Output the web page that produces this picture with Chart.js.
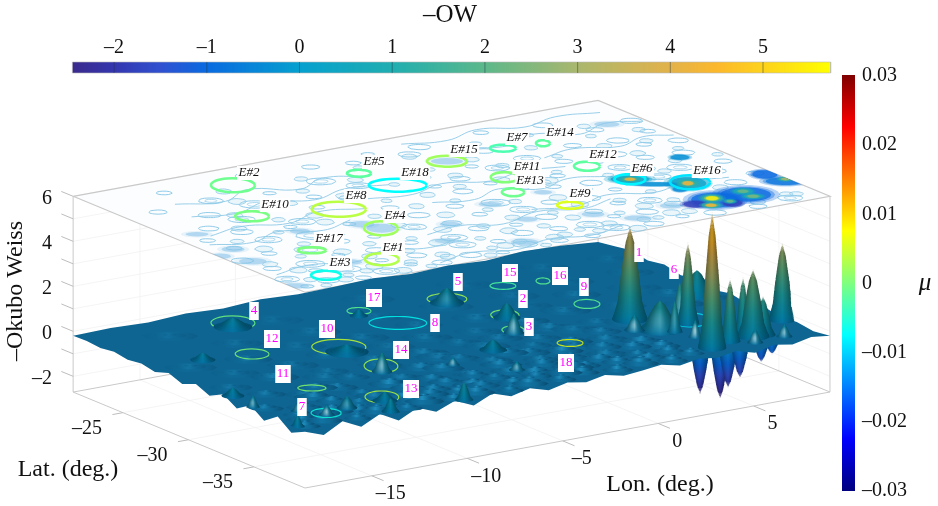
<!DOCTYPE html>
<html><head><meta charset="utf-8">
<style>html,body{margin:0;background:#fff}canvas{display:block;filter:blur(.4px)}</style>
<script src="https://cdn.jsdelivr.net/npm/chart.js@4"></script>
</head><body><canvas id="c" width="938" height="506"></canvas>
<script>
// ---------- axes ----------
const lonTicks=[-15,-10,-5,0,5];
const latTicks=[-35,-30,-25];
const zTicks=[-2,0,2,4,6];
const zMinorTicks=[-1,1,3,5];
const owTicks=[-2,-1,0,1,2,3,4,5];
const muTicks=[0.03,0.02,0.01,0,-0.01,-0.02,-0.03];
// ---------- eddies (E#1..E#18): top-plane ring and surface ring ----------
const eddyName=['E#1','E#2','E#3','E#4','E#5','E#6','E#7','E#8','E#9','E#10','E#11','E#12','E#13','E#14','E#15','E#16','E#17','E#18'];
const eddySurfaceName=['13','4','7','14','17','1','15','10','18','12','2','9','3','16','5','6','11','8'];
const eddyLon=[-12.81,-11.72,-16.24,-10.12,-6.09,3.23,1.34,-9.98,-1.23,-13.75,-1.14,2.81,-2.16,3.23,-1.84,5.15,-14.56,-5.73];
const eddyLat=[-36.48,-23.52,-37.22,-32.49,-24.94,-32.04,-25.10,-29.07,-33.97,-27.94,-28.86,-29.37,-30.97,-25.40,-25.46,-33.83,-33.69,-27.38];
const eddyMajor=[.73,.95,.65,.73,.52,.67,.56,1.17,.56,.73,.61,.56,.48,.30,.86,.86,.61,1.25];
const eddyMinor=[.93,1.08,.70,1.08,.54,.78,.54,1.16,.54,.78,.78,.70,.62,.47,.85,1.08,.47,1.0];
const eddyMu=[.003,-.001,-.0065,.002,-.002,-.008,-.003,.0035,.0055,-.0003,.0003,-.002,-.001,-.002,.002,-.009,0,-.0075];
// ---------- peaks of -OW on the surface ----------
const peakLon=[3.18,4.94,3.67,4.89,6.24,6.16,8.7,3.72,4.95,7.77,3.36,6.66,-2.01,-1.15,-2.22,-10.43,-11.9,-6.36,-9.95,-12.87,-16.21,-18.19,-9.91,-7.24,-5.36,-14.86,-18.3,-15.89,-17.96,-4.47,2.4,4.0,5.7,7.3,-16.9,-13.6];
const peakLat=[-32.11,-33.97,-37.67,-37.26,-36.28,-37.16,-35.7,-34.75,-33.34,-30.54,-34.15,-37.2,-25.71,-29.03,-31.12,-33.02,-23.78,-25.32,-29.64,-36.8,-37.23,-34.48,-38.53,-33.79,-35.93,-36.81,-38.04,-27.3,-32.61,-32.81,-33.6,-35.9,-38,-37.9,-36.1,-38.3];
const peakZ=[3.9,3.38,5.8,2.58,2.18,2.76,3.2,1.22,1.5,.9,1.1,1.49,.47,.47,.69,.69,.2,.1,.1,.2,.25,.33,.6,.15,.2,.33,.3,.1,.15,.25,.5,.6,.4,.35,.25,.4];
const peakR=[.78,.5,.62,.46,.4,.72,.62,.34,.4,.8,.95,.55,.75,.6,.45,.45,.85,.4,.95,.55,.35,.3,.4,.3,.35,.45,.32,.55,.5,.6,.45,.3,.35,.35,.35,.4];
const peakGlow=[0,0,0,0,0,0,0,.25,.35,0,.3,0,.2,0,.6,.6,0,0,0,0,.7,.5,0,.6,.5,.3,0,0,0,0,.6,.8,.7,.6,.5,0];
const troughLon=[3.49,4.22,4.51,5.38,6.59,7.25];
const troughLat=[-37.01,-37.48,-37.66,-37.3,-37.16,-37.02];
const troughZ=[-2.38,-2.6,-2.11,-1.89,-1.4,-1.2];
// ---------- small ripples of the surface ----------
const rippleLon=[-18,-16.8,-15.4,-14.1,-12.7,-11.5,-10.2,-8.8,-7.4,-6.1,-4.6,-3.2,-1.7,-.3,1.1,2.4,-17.2,-15.7,-13.9,-11.8,-10.1,-8.3,-6.8,-4.9,-3.1,-1.4,.4,2,-17.9,-15.1,-13,-11.2,-9.2,-7.5,-5.5,-3.6,-2,-.2,1.7,-16.6,-14.2,-12,-8.6,-6.4,-4.2,-2.6,-.9,1.1,-17.3,-14.8,-12.3,-9.6,-7.2,-5,-3.2,-.4,1.8,6.5,8,-15.9,-13.1,-10.9,-7.9,-5.8,-3.4,-.7,1.6,4.1,7,-17,-14.2,-11.2,-8.1,-5,-2.2,.6,3.4,6.1,-13.2,-9.4,-5.8,-2.4,1,4.2,7.3,-15,-9.8,-4.6,.2,4.6,7.8,-17.5,-16.1,-14.7,-13.3,-11.9,-10.6,-9.4,-8,-6.6,-5.2,-3.9,-2.5,-1,.5,1.8,-16.4,-14.8,-12.8,-10.9,-9,-7.4,-5.7,-3.9,-2.3,-.7,.9,-15.2,-13.4,-10.2,-7.9,-5.4,-3.4,-1.2,.6,-12.9,-9.9,-7,-4.4,-1.8,.3,2.9];
const rippleLat=[-38.2,-37.9,-38.4,-38,-38.3,-37.8,-38.2,-37.9,-38.4,-38,-38.2,-37.8,-38.3,-38,-38.4,-37.9,-36.6,-36.9,-36.4,-36.8,-36.5,-36.9,-36.4,-36.7,-36.9,-36.5,-36.8,-36.3,-35,-34.7,-35.3,-34.8,-35.1,-35.4,-34.9,-35.2,-34.6,-35,-35.2,-33.2,-33.5,-33,-33.4,-33.1,-33.5,-33.2,-33.6,-33,-31.5,-31.2,-31.7,-31.3,-31.6,-31.1,-31.5,-31.3,-31.7,-31.4,-31.2,-29.8,-30.1,-29.6,-30,-29.7,-30.1,-29.9,-29.5,-30.2,-29.7,-28,-28.3,-27.8,-28.2,-27.9,-28.4,-28,-27.7,-28.2,-26,-26.3,-25.9,-26.2,-26.4,-25.8,-26.1,-23.5,-23.9,-23.4,-23.8,-23.5,-23.9,-37.3,-37,-37.5,-37.2,-37.4,-37,-37.4,-37.1,-37.5,-37.2,-37.4,-37,-37.3,-37.5,-37.1,-35.8,-35.6,-36,-35.7,-35.9,-35.6,-36,-35.8,-35.6,-36,-35.7,-34.2,-34,-34.3,-34,-34.2,-34,-34.3,-34.1,-32.4,-32.1,-32.5,-32.2,-32.4,-32.1,-32.5];
const rippleH=[.22,.3,.2,.28,.18,.3,.22,.26,.2,.28,.2,.26,.22,.3,.24,.22,.2,.26,.16,.22,.2,.26,.16,.22,.26,.2,.18,.24,.16,.2,.15,.22,.18,.14,.2,.16,.22,.18,.2,.14,.16,.12,.18,.14,.16,.12,.18,.14,.1,.14,.1,.12,.14,.1,.12,.14,.1,.14,.12,.08,.1,.12,.08,.1,.08,.12,.1,.08,.1,.08,.1,.07,.09,.08,.1,.07,.09,.08,.07,.08,.06,.08,.07,.06,.08,.06,.05,.06,.05,.06,.05,.24,.2,.26,.18,.24,.2,.26,.18,.22,.2,.26,.18,.24,.2,.22,.18,.2,.16,.22,.18,.2,.16,.2,.18,.16,.2,.14,.16,.14,.18,.14,.16,.14,.16,.12,.1,.12,.1,.12,.1,.12];
const rippleR=[.5,.6,.45,.6,.5,.65,.5,.6,.45,.6,.5,.55,.5,.6,.5,.45,.55,.7,.5,.65,.6,.7,.5,.65,.7,.6,.5,.6,.6,.7,.55,.75,.6,.55,.7,.6,.65,.6,.7,.65,.7,.6,.75,.65,.7,.6,.7,.65,.7,.8,.65,.75,.8,.7,.75,.8,.7,.7,.65,.8,.85,.75,.8,.85,.8,.75,.85,.8,.75,.85,.8,.9,.85,.8,.9,.85,.8,.9,.85,.9,.85,.9,.85,.9,.8,.9,.95,.9,.95,.85,.8,.55,.5,.6,.5,.55,.6,.5,.6,.55,.5,.6,.5,.55,.6,.5,.6,.55,.7,.6,.65,.55,.7,.6,.55,.7,.6,.7,.65,.75,.7,.65,.7,.75,.7,.8,.75,.85,.8,.75,.8,.85];
// surface margin heights, walking round the sheet
const edgeBackLeftZ=[-.2,-.16,-.22,-.12,-.2,-.1,-.18,-.14,-.08,-.2,-.12,-.22,-.1,-.16,-.3];
const edgeBackRightZ=[-.3,-.18,-.05,-.2,-.08,-.25,-.1,-.3,-.15,-.3,-.12,-.28,-.2,-.3,-.2];
const edgeFrontRightZ=[-.2,-.1,-.28,-.14,-.34,-.12,-.26,-.16,-.3,-.12,-.22,-.3,-.12,-.28,-.14,-.34,-.1,-.3,-.02,-.4,-.04,-.38,-.05,-.46,-.02,-.44,-.04,-.5,-.2];
const edgeFrontLeftZ=[-.2,-.5,-.02,-.46,-.02,-.42,-.04,-.36,-.08,-.34,-.1,-.3,-.18,-.26,-.16,-.24,-.18,-.2];
// ---------- -OW contours on the top plane ----------
const contourLon=[-17.9,-16.6,-15.1,-13.7,-12.2,-10.9,-9.2,-7.8,-6.3,-4.7,-3.1,-1.5,.2,1.9,3.4,-18,-16.2,-14.9,-12.9,-11.2,-8.6,-7,-5.4,-3.7,-2.2,-.6,1,2.7,5.5,7.4,-17.6,-15.8,-14,-12.2,-10.3,-8.3,-6.6,-4.9,-3.1,-.9,.7,2.1,6.8,8.3,-18,-16.4,-14.6,-12.7,-11.1,-8.8,-7.1,-5.3,-3.3,-1.7,.1,1.8,4.5,7.1,-17.2,-15.2,-13.3,-10.9,-7.6,-5.5,-3.7,-.2,1.5,4.3,6.1,8.2,-17.5,-15.5,-13.3,-12.4,-8,-3.9,-2.2,-.3,.9,3.9,5.7,7.5,-16.4,-14.4,-10.6,-8.6,-4.5,-2.9,-.6,2.4,4.9,6.8,8.4,-15.2,-12.6,-9.8,-7.2,-4.2,-1.4,1.3,4.1,6.2,8.1,-16.8,-13.9,-11.1,-8.2,-5.4,-2.6,.4,3.3,6.3,8.4,-14.9,-10.4,-7.3,-4.1,-1.6,1.9,4.8,7.6];
const contourLat=[-38.2,-37.9,-38.4,-38.1,-37.8,-38.3,-38,-38.4,-37.9,-38.2,-38.4,-37.9,-38.3,-38,-38.3,-36.8,-36.4,-36.9,-36.6,-36.8,-36.5,-36.9,-36.4,-36.7,-36.9,-36.4,-36.6,-36.2,-38.5,-38.2,-35.1,-35.4,-34.9,-35.2,-35,-35.4,-34.8,-35.2,-34.9,-35.3,-34.8,-35.2,-34.9,-34.2,-33.4,-33.1,-33.6,-33.2,-33.4,-33.1,-33.5,-33,-33.4,-33.1,-33.5,-33,-32.4,-33,-31.6,-31.3,-31.8,-31.2,-31.7,-31.4,-31.9,-31.2,-31.6,-31.3,-31.7,-31.9,-30,-29.7,-30.2,-29.8,-30.1,-29.7,-29.3,-30.3,-29.9,-30.3,-29.6,-29.9,-28.5,-28.1,-28.3,-27.9,-28.4,-28,-27.5,-28.2,-28.5,-27.9,-28.2,-26.8,-26.5,-26.9,-26.5,-26.9,-26.7,-27,-26.4,-26.8,-26.3,-25.2,-25,-25.4,-25.1,-23.5,-23.7,-25,-23.6,-24.9,-24.6,-22.9,-22.7,-23,-22.7,-23,-22.6,-23.1,-22.8];
const contourSize=[.3,.5,.35,.6,.3,.45,.5,.3,.55,.4,.35,.6,.45,.3,.5,.55,.35,.6,.3,.45,.6,.35,.5,.4,.6,.3,.5,.45,.4,.55,.4,.65,.3,.5,.35,.6,.45,.3,.5,.4,.35,.55,.5,.4,.5,.35,.7,.4,.3,.55,.45,.35,.6,.4,.5,.3,.55,.45,.35,.6,.7,.3,.5,.4,.65,.35,.5,.45,.6,.4,.35,.5,.3,.6,.4,.45,.3,.5,.35,.55,.4,.5,.45,.6,.35,.5,.3,.45,.55,.4,.5,.35,.45,.5,.7,.35,.55,.45,.3,.6,.4,.5,.35,.4,.55,.3,.65,.35,.5,.45,.3,.4,.5,.35,.55,.4,.3,.5,.35,.45];
const contour2Lon=[-17.1,-15.9,-14.4,-13,-11.6,-10.2,-8.5,-7.1,-5.6,-4,-2.4,-.8,.9,2.6,-17.2,-15.4,-13.7,-12,-10.2,-7.8,-6.2,-4.6,-3,-1.4,.2,1.8,3.6,-16.8,-15,-13,-11.1,-9.3,-7.4,-5.7,-4,-2.2,-.1,1.4,3,5.9,7.6,-17.3,-15.5,-13.6,-11.9,-9.9,-8,-6.2,-4.4,-2.5,-.8,1,2.9,5.8,8,-16.2,-14.3,-12.2,-9.2,-6.6,-4.6,-2.9,-1,.8,3,5.2,7.2,-16.5,-14.2,-11.6,-9.3,-6.9,-5,-1.4,.2,2.8,4.8,6.5,8.6,-15.3,-13.1,-11.4,-7.5,-5.5,-3.6,-1.5,1.2,3.6,5.8,7.7,-14.3,-11.2,-8.6,-5.8,-2.8,-.2,2.6,5.2,7.2,-13,-9.7,-6.8,-3.2,-.8,2.4,5.6,7.9,-12.6,-8.7,-5.6,-2.8,.7,3.4,6.2];
const contour2Lat=[-38.5,-38.2,-37.6,-38.4,-38.5,-37.7,-38.5,-37.6,-38.5,-37.6,-37.9,-38.5,-37.6,-37.5,-37.4,-37.7,-37.2,-37.5,-37.3,-37.6,-37.4,-37.7,-37.3,-37.2,-37.5,-37.3,-36.9,-35.9,-36.1,-35.8,-36,-35.7,-36.1,-35.8,-36,-35.6,-36.1,-35.8,-35.7,-37.9,-37.6,-34.5,-34.2,-34.6,-34.2,-34.5,-34.1,-34.6,-34.2,-34.5,-34.1,-34.5,-34.1,-35.2,-37.8,-32.4,-32.7,-32.3,-32.5,-32.3,-32.6,-32.2,-32.7,-32.3,-32,-31.8,-32.6,-30.8,-30.6,-30.4,-30.8,-30.5,-30.7,-30.6,-30.3,-31,-31.1,-30.7,-30.9,-29.2,-29,-29.3,-29.1,-29.3,-29,-29.1,-29.4,-29,-28.9,-29.2,-27.4,-27.2,-27.5,-27.2,-27.5,-27.3,-27.4,-27.2,-27.5,-25.7,-25.9,-25.7,-26.1,-25.8,-25.7,-25.6,-25.9,-24.1,-24.3,-24.2,-24,-23.9,-24,-24.2];
const contour2Size=[.25,.35,.3,.4,.25,.35,.3,.4,.25,.35,.3,.4,.25,.35,.3,.25,.4,.3,.35,.25,.3,.4,.25,.35,.3,.4,.3,.4,.25,.35,.3,.45,.25,.4,.3,.35,.25,.4,.3,.35,.3,.35,.25,.4,.3,.25,.4,.3,.35,.25,.4,.3,.25,.35,.3,.4,.3,.25,.35,.4,.25,.3,.4,.25,.35,.3,.4,.3,.25,.4,.3,.35,.25,.3,.4,.25,.35,.3,.25,.35,.3,.4,.25,.35,.3,.4,.25,.3,.35,.25,.35,.3,.4,.25,.35,.3,.25,.35,.3,.4,.3,.35,.25,.35,.3,.25,.3,.35,.3,.25,.35,.3,.25,.3];
const contourPathLon=[[-15.5,-13.4,-11.6,-9.6,-7.9,-6.1],[-6,-4.2,-2.4,-.8,1,2.6],[-17.8,-16,-14.2,-12.4,-10.5],[-9,-7,-5.3,-3,-1,.8],[0,1.8,3.6,5.4,7.2,8.8],[2,3.8,5.8,7.4,8.7],[-18,-16,-14,-12,-10,-8],[-11,-9,-7,-5,-3,-1],[-3,-1,1,3,5,7],[-16,-14,-12,-10,-8,-6],[-8,-6,-4,-2,0,2],[-17,-15,-13,-11,-9],[-2,0,2,4,6,8]];
const contourPathLat=[[-24.6,-25.4,-24.4,-25.6,-24.7,-25.5],[-30.4,-31,-30.2,-31.2,-30.5,-31.1],[-30.6,-31.3,-30.5,-31.4,-30.7],[-34.4,-34,-34.8,-34,-34.7,-34.1],[-24.2,-24.9,-24,-25.1,-24.3,-24.9],[-27.3,-26.8,-27.6,-26.9,-27.4],[-36,-35.5,-36.2,-35.4,-36.1,-35.5],[-38.3,-37.7,-38.4,-37.8,-38.3,-37.7],[-33.6,-34.2,-33.5,-34.3,-33.7,-34.1],[-26.6,-27.2,-26.4,-27.3,-26.6,-27.1],[-28.4,-28.9,-28.2,-29,-28.5,-28.9],[-29.5,-29,-29.7,-28.9,-29.6],[-22.2,-22.8,-22.1,-22.9,-22.3,-22.8]];
// pale wash of -OW on the top plane
const washLon=[-17.33,-17.67,-17.34,-10.46,-7.26,-1.84,-10.1,-18.3,-18.4,-13.32,7.22,-4.05,-1.07,-4.02,-1.19,.1,2.4,-6.1,-14.2,-8.9];
const washLat=[-28.95,-33.71,-31.72,-31.53,-33.59,-25.46,-32.49,-37.85,-32.3,-30.97,-24.46,-31.97,-31.67,-34.75,-35.66,-37.2,-36.4,-37.6,-36.1,-35.6];
const washMajor=[.5,.6,.5,.55,.45,.7,.65,.6,.45,.45,.55,.5,.4,.45,.5,.6,.5,.6,.5,.45];
const washMinor=[.35,.5,.42,.5,.4,.5,.7,.42,.42,.42,.42,.38,.34,.38,.42,.42,.42,.5,.42,.38];
// strong -OW cells on the top plane, outer parts first
const cellLon=[6.1,4.5,3.4,4.86,8.57,8.69,4.98,3.23,4.16,6.97,3.7,4.54,3.89,4.98,3.23,6.28,6.21,4.93,8.9,4.54,3.89,4.98,3.23,6.28,6.21,4.93,8.9];
const cellLat=[-36.7,-36.7,-36.76,-37.52,-34.56,-35.93,-33.91,-32.04,-34.49,-30.4,-33.27,-36.39,-37.27,-33.91,-32.04,-36.22,-37.1,-37.2,-35.65,-36.39,-37.27,-33.91,-32.04,-36.22,-37.1,-37.2,-35.65];
const cellMajor=[1.1,1.05,.5,.4,.55,.85,.8,.85,.3,.4,1.0,.45,.4,.42,.4,.42,.42,.25,.3,.26,.22,.22,.22,.22,.24,.14,.18];
const cellMinor=[1.1,1.15,.5,.5,.65,.6,.95,.6,.4,.4,.3,.55,.42,.55,.4,.45,.38,.32,.32,.32,.24,.3,.22,.24,.22,.18,.18];
const cellOW=[-1,-1,-1.8,-1.8,-1,-.8,.1,.1,-.4,-.3,-.3,1.2,1.2,1.2,1.2,.8,.8,.8,1.2,5.5,4.4,4.2,4.2,2.2,2.4,2.2,3];
// ---------- colour scales ----------
const owStopV=[-2.45,-2,-1.5,-1,0,1,2,3,4,4.5,5,5.73];
const owStopC=['#3a2a8c','#3436ae','#3050d0','#0a6ae0','#05a0cf','#20aeb0','#5cb88a','#aab76e','#e2b24a','#fcb82c','#fdd21c','#ffff00'];
const muStopF=[0,.125,.375,.5,.625,.875,1];
const muStopC=['#00007f','#0000ff','#00ffff','#7fff7f','#ffff00','#ff0000','#7f0000'];
// ---------- text layout ----------
const topLabelX=[393,249,340,395,374,642,517,356,580,275,527,603,530,560,464,707,329,415];
const topLabelY=[248,173,263,216,162,169,138,196,194,205,167,155,181,133,150,171,239,173];
const surfLabelX=[411,254,302,401,374,639,510,327,566,272,523,584,529,560,458,674,283,435];
const surfLabelY=[389,311,407,350,298,253,273,329,363,339,299,287,327,276,282,270,374,323];

// ---------- projection: affine oblique view of the data box ----------
const lonMin=-18.5,lonMax=9,latMin=-38.9,latMax=-21.2,zMin=-2.7,zMax=6,zSurf=-.2;
function proj(lon,lat,z){return {x:305+(lon-lonMin)*19.09-(lat-latMin)*13.1,
  y:488-(lon-lonMin)*3.49-(lat-latMin)*5.42-(z-zMin)*22.5};}
function clampLon(v){return Math.min(lonMax,Math.max(lonMin,v));}
function clampLat(v){return Math.min(latMax,Math.max(latMin,v));}
function ellipse(lon,lat,a,b,z,n,ph){const p=[];ph=ph||0;for(let i=0;i<=n;i++){const t=i/n*2*Math.PI+ph,c=Math.cos(t),s=Math.sin(t);
  p.push(proj(clampLon(lon+c*a*.841+s*b*.541),clampLat(lat-c*a*.541+s*b*.841),z));}return p;}

const canvas=document.getElementById('c');const g2=canvas.getContext('2d');
const ds=[];
function add(points,o){o=o||{};ds.push({data:points,showLine:true,pointRadius:0,pointHoverRadius:0,borderWidth:o.w||0,
  borderColor:o.stroke||'rgba(0,0,0,0)',backgroundColor:o.fill||'rgba(0,0,0,0)',fill:o.fill?'shape':false,
  tension:o.tension||0,clip:false,order:-ds.length});}
function hex(c){return [parseInt(c.slice(1,3),16),parseInt(c.slice(3,5),16),parseInt(c.slice(5,7),16)];}
function ramp(v,vs,cs){if(v<=vs[0])return hex(cs[0]);for(let i=1;i<vs.length;i++){if(v<=vs[i]){const f=(v-vs[i-1])/(vs[i]-vs[i-1]),
  a=hex(cs[i-1]),b=hex(cs[i]);return a.map((x,k)=>x+(b[k]-x)*f);}}return hex(cs[cs.length-1]);}
function css(c,f,mix,al){f=f==null?1:f;mix=mix||0;const r=c.map(x=>Math.min(255,x*f*(1-mix)+255*mix)|0);
  return al==null?`rgb(${r})`:`rgba(${r},${al})`;}
function horizGrad(x0,x1,stops){const g=g2.createLinearGradient(x0,0,x1,0);stops.forEach(s=>g.addColorStop(s[0],s[1]));return g;}

// profile of a peak: height fraction -> radius fraction
const profT=[0,.08,.2,.5,.83,.95,1],profR=[1,.85,.68,.5,.25,.08,.02];
function prof(t){for(let i=1;i<profT.length;i++)if(t<=profT[i]){const f=(t-profT[i-1])/(profT[i]-profT[i-1]);return profR[i-1]+(profR[i]-profR[i-1])*f;}return .02;}
function stack(lon,lat,zp,R,glow,tone){
  const hpx=Math.abs(zp-zSurf)*22.5,n=Math.max(3,Math.round(hpx/.8));
  for(let k=0;k<=n;k++){
    const i=zp>zSurf?k:n-k,t=i/n,z=zSurf+(zp-zSurf)*t,r=Math.max(.015,R*prof(t));
    const col=ramp(Math.min(z,4.6),owStopV,owStopC),cen=proj(lon,lat,z),w=r*23.14+.3;
    const f=tone;
    const lit=glow*Math.sin(Math.PI*Math.min(1,t*1.2+.05));
    add(ellipse(lon,lat,r,r,z,16),{fill:horizGrad(cen.x-w,cen.x+w,[[0,css(col,f*.66)],[.32,css(col,f*.92,lit*.55)],[.5,css(col,f*1.0,lit*.8)],[.72,css(col,f*.84,lit*.15)],[1,css(col,f*.6)]])});
  }
}
function seg(a,b,o){add([a,b],o);}
// ---------- floor, walls, box ----------
const gridC='#f1f1f1',boxC='#c9c9c9';
lonTicks.forEach(l=>{seg(proj(l,latMin,zMin),proj(l,latMax,zMin),{stroke:gridC,w:.8});seg(proj(l,latMax,zMin),proj(l,latMax,zMax),{stroke:gridC,w:.8});});
latTicks.forEach(l=>{seg(proj(lonMin,l,zMin),proj(lonMax,l,zMin),{stroke:gridC,w:.8});seg(proj(lonMax,l,zMin),proj(lonMax,l,zMax),{stroke:gridC,w:.8});});
zTicks.concat(zMinorTicks).forEach(z=>{seg(proj(lonMin,latMax,z),proj(lonMax,latMax,z),{stroke:gridC,w:.8});seg(proj(lonMax,latMax,z),proj(lonMax,latMin,z),{stroke:gridC,w:.8});});
[[lonMin,latMax],[lonMax,latMax],[lonMax,latMin]].forEach(c=>seg(proj(c[0],c[1],zMin),proj(c[0],c[1],zMax),{stroke:boxC,w:1}));
[[lonMin,latMax,lonMin,latMin],[lonMin,latMin,lonMax,latMin],[lonMax,latMin,lonMax,latMax],[lonMax,latMax,lonMin,latMax]].forEach(e=>seg(proj(e[0],e[1],zMin),proj(e[2],e[3],zMin),{stroke:boxC,w:1}));
// ticks on the box
const tk='#bdbdbd';
zTicks.concat(zMinorTicks).forEach(z=>{const p=proj(lonMin,latMax,z);seg(p,proj(lonMin,latMax+.9,z),{stroke:tk,w:1});});
lonTicks.forEach(l=>seg(proj(l,latMin,zMin),proj(l,latMin-.9,zMin),{stroke:tk,w:1}));
latTicks.forEach(l=>seg(proj(lonMin,l,zMin),proj(lonMin-.55,l,zMin),{stroke:tk,w:1}));
// ---------- top plane ----------
const plane=[proj(lonMin,latMax,zMax),proj(lonMax,latMax,zMax),proj(lonMax,latMin,zMax),proj(lonMin,latMin,zMax),proj(lonMin,latMax,zMax)];
add(plane,{fill:'#fcfdfe',stroke:boxC,w:1.2});
washLon.forEach((l,i)=>{add(ellipse(l,washLat[i],washMajor[i]*1.4,washMinor[i]*1.4,zMax,16),{fill:'rgba(150,205,236,.2)'});
  add(ellipse(l,washLat[i],washMajor[i],washMinor[i],zMax,16),{fill:'rgba(90,170,225,.38)'});});
contourLon.forEach((l,i)=>{const s=contourSize[i];add(ellipse(l,contourLat[i],s,s*.8,zMax,7,i),{stroke:'#86c6e6',w:.9,tension:.4});
  if(s>=.55)add(ellipse(l,contourLat[i],s*.5,s*.42,zMax,6,i),{stroke:'#9bd0ea',w:.8,tension:.4});});
contour2Lon.forEach((l,i)=>{const s=contour2Size[i];add(ellipse(l,contour2Lat[i],s,s*1.1,zMax,6,i*2),{stroke:'#90cbe8',w:.85,tension:.4,fill:'rgba(170,218,242,.2)'});});
contourPathLon.forEach((p,j)=>add(p.map((l,i)=>proj(l,contourPathLat[j][i],zMax)),{stroke:'#8ec9e7',w:.9,tension:.45}));
cellLon.forEach((l,i)=>{const c=ramp(cellOW[i],owStopV,owStopC);
  add(ellipse(l,cellLat[i],cellMajor[i]*1.35,cellMinor[i]*1.35,zMax,18),{fill:css(c,1,0,.28)});
  add(ellipse(l,cellLat[i],cellMajor[i]*1.15,cellMinor[i]*1.15,zMax,18),{fill:css(c,1,0,.4)});
  add(ellipse(l,cellLat[i],cellMajor[i],cellMinor[i],zMax,18),{fill:css(c,1,0,.75)});});
const ringColor=eddyMu.map(m=>ramp((m+.03)/.06,muStopF,muStopC));
eddyLon.forEach((l,i)=>add(ellipse(l,eddyLat[i],eddyMajor[i],eddyMinor[i],zMax,24),{stroke:css(ringColor[i]),w:2.6,tension:.3}));
// ---------- negative spikes hang under the sheet ----------
troughLon.forEach((l,i)=>stack(l,troughLat[i],troughZ[i],.56,0,.88));
// ---------- the sheet ----------
function walk(arr,f){return arr.map((z,i)=>{const t=i/(arr.length-1),c=f(t);return proj(c[0],c[1],z);});}
const sheet=[].concat(
 walk(edgeBackLeftZ,t=>[lonMin+(lonMax-lonMin)*t,latMax]),
 walk(edgeBackRightZ,t=>[lonMax,latMax+(latMin-latMax)*t]),
 walk(edgeFrontRightZ,t=>[lonMax+(lonMin-lonMax)*t,latMin]),
 walk(edgeFrontLeftZ,t=>[lonMin,latMin+(latMax-latMin)*t]));
add(sheet,{fill:'#0e6592'});
// ripples: low mounds, far ones first
const mixC=(a,b,k)=>{const A=hex(a),B=hex(b);return `rgb(${A.map((x,j)=>(x+(B[j]-x)*k)|0)})`;};
rippleLon.map((l,i)=>i).sort((a,b)=>proj(rippleLon[a],rippleLat[a],0).y-proj(rippleLon[b],rippleLat[b],0).y).forEach(i=>{
  const lon=rippleLon[i],lat=rippleLat[i],h=rippleH[i],R=rippleR[i]*1.35,k=Math.min(1,h/.22);
  [[1,.0],[.6,.5],[.25,1]].forEach(s=>{const zz=zSurf+h*s[1],c=proj(lon,lat,zz),w=R*s[0]*23.14;
    add(ellipse(lon,lat,R*s[0],R*s[0]*.62,zz,10),{fill:horizGrad(c.x-w,c.x+w,[[0,mixC('#0e6592','#0b5a84',k)],[.42,mixC('#0e6592',s[1]>.4?'#1f8dbd':'#1273a2',k)],[.68,mixC('#0e6592','#0f6995',k)],[1,mixC('#0e6592','#084a70',k)]])});});
});
// surface rings
eddyLon.forEach((l,i)=>add(ellipse(l,eddyLat[i],eddyMajor[i],eddyMinor[i],zSurf+.08,24),{stroke:css(ringColor[i],.88),w:1.2,tension:.3}));
// peaks, far ones first
peakLon.map((l,i)=>i).sort((a,b)=>proj(peakLon[a],peakLat[a],0).y-proj(peakLon[b],peakLat[b],0).y).forEach(i=>{
  stack(peakLon[i],peakLat[i],peakZ[i],peakR[i],peakGlow[i],.78);});
// ---------- colour bars, drawn as shapes on the same scales ----------
const owX=v=>299.5+v*92.7;
const owBarL=owX(-2.45),owBarR=owX(5.73);
const gOW=horizGrad(owBarL,owBarR,owStopV.map((v,i)=>[(v+2.45)/8.18,owStopC[i]]));
add([{x:owBarL,y:62},{x:owBarR,y:62},{x:owBarR,y:73},{x:owBarL,y:73},{x:owBarL,y:62}],{fill:gOW,stroke:'#bbbbbb',w:.6});
owTicks.forEach(v=>seg({x:owX(v),y:62},{x:owX(v),y:73},{stroke:'rgba(40,60,70,.22)',w:.8}));
const gMu=g2.createLinearGradient(0,491,0,75);muStopF.forEach((f,i)=>gMu.addColorStop(f,muStopC[i]));
add([{x:842,y:75},{x:855,y:75},{x:855,y:491},{x:842,y:491},{x:842,y:75}],{fill:gMu});

// ---------- text ----------
const serif='"Liberation Serif","Times New Roman",serif';
const textPlugin={id:'texts',afterDatasetsDraw(chart){
  const c=chart.ctx,X=chart.scales.x,Y=chart.scales.y;c.save();
  const t=(s,x,y,font,al,col)=>{c.font=font;c.textAlign=al||'center';c.textBaseline='middle';c.fillStyle=col||'#111';c.fillText(s,X.getPixelForValue(x),Y.getPixelForValue(y));};
  const minus=v=>(v<0?'\u2013':'')+Math.abs(v);
  const tf='20px '+serif,lf='25px '+serif;
  t('\u2013OW',450,15,lf);
  owTicks.forEach(v=>t(minus(v),owX(v),48,tf));
  muTicks.forEach((v,i)=>t(v===0?'0':(v<0?'\u2013':'')+Math.abs(v).toFixed(2),862,76+i*69.2,tf,'left'));
  t('\u03bc',925,283,'italic 25px '+serif);
  zTicks.forEach(z=>{const p=proj(lonMin,latMax,z);t(minus(z),52,p.y+2,tf,'right');});
  lonTicks.forEach(l=>{const p=proj(l,latMin,zMin);t(minus(l),p.x+19,p.y+18,tf);});
  latTicks.forEach(l=>{const p=proj(lonMin,l,zMin);t(minus(l),p.x-36,p.y+16,tf);});
  t('Lat. (deg.)',68,470,'24px '+serif);
  t('Lon. (deg.)',660,485,'24px '+serif);
  c.save();c.translate(X.getPixelForValue(16),Y.getPixelForValue(291));c.rotate(-Math.PI/2);c.font='24px '+serif;c.textAlign='center';c.textBaseline='middle';c.fillStyle='#111';c.fillText('\u2013Okubo Weiss',0,0);c.restore();
  eddyName.forEach((s,i)=>{c.font='italic 13px '+serif;const w=c.measureText(s).width+3;c.fillStyle='#fff';c.fillRect(topLabelX[i]-w/2,topLabelY[i]-7,w,14);t(s,topLabelX[i],topLabelY[i],'italic 13px '+serif,'center','#111');});
  eddySurfaceName.forEach((s,i)=>{c.font='13px '+serif;const w=c.measureText(s).width+3;c.fillStyle='#fff';c.fillRect(surfLabelX[i]-w/2,surfLabelY[i]-9,w,18);t(s,surfLabelX[i],surfLabelY[i],'13px '+serif,'center','#f0f');});
  c.restore();
}};
new Chart(canvas,{type:'scatter',data:{datasets:ds},plugins:[textPlugin],options:{
  responsive:false,animation:false,events:[],layout:{padding:0},
  plugins:{legend:{display:false},tooltip:{enabled:false},title:{display:false}},
  scales:{x:{type:'linear',min:0,max:938,display:false},y:{type:'linear',min:0,max:506,reverse:true,display:false}}
}});
</script></body></html>
